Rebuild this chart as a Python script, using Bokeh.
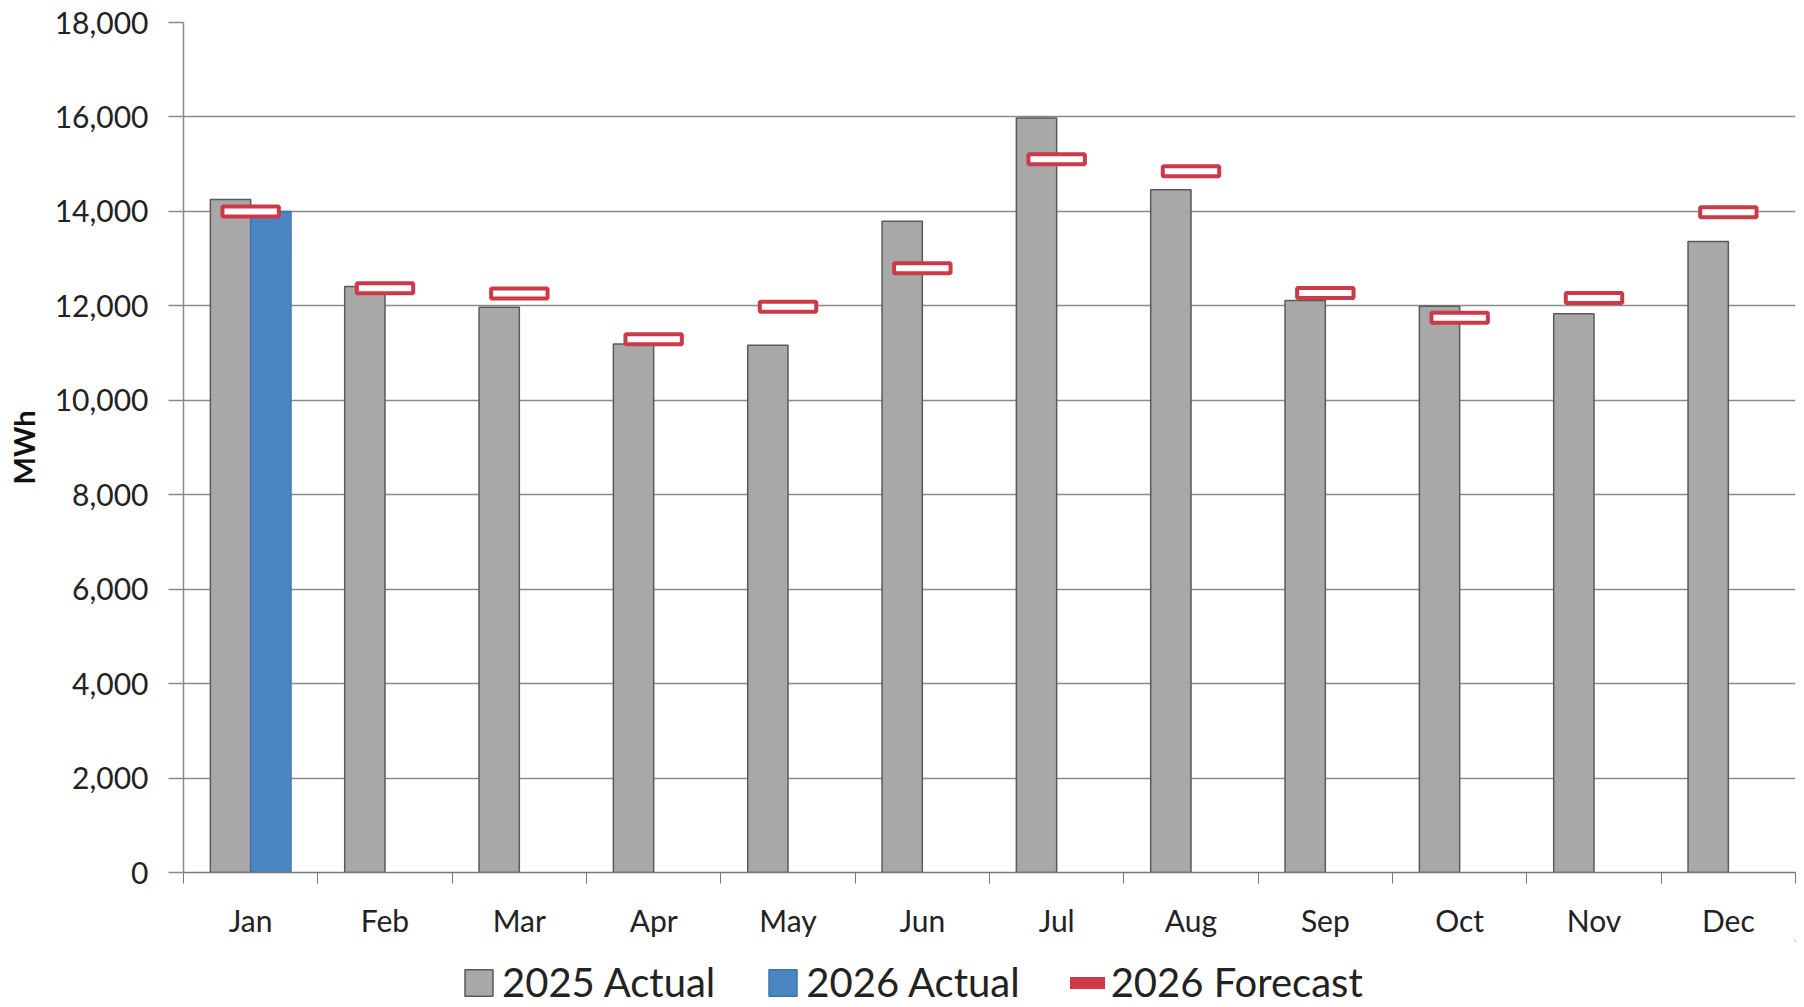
from bokeh.plotting import figure
from bokeh.layouts import column
from bokeh.models import Range1d, FixedTicker, NumeralTickFormatter, Legend, LegendItem, ColumnDataSource
from bokeh.embed import file_html
from bokeh.resources import INLINE

months = ["Jan", "Feb", "Mar", "Apr", "May", "Jun", "Jul", "Aug", "Sep", "Oct", "Nov", "Dec"]
actual_2025 = [14250, 12410, 11970, 11190, 11165, 13790, 15980, 14460, 12115, 11990, 11835, 13365]
actual_2026 = [14000, None, None, None, None, None, None, None, None, None, None, None]
forecast_2026 = [14000, 12370, 12260, 11290, 11980, 12795, 15105, 14850, 12270, 11750, 12165, 13980]
y_ticks = [0, 2000, 4000, 6000, 8000, 10000, 12000, 14000, 16000, 18000]
series_names = ["2025 Actual", "2026 Actual", "2026 Forecast"]

FONT = "Lato"
GRAY = "#a7a8a7"
BLUE = "#4a86c2"
RED = "#cc3a4a"

x_center = [i + 0.5 for i in range(len(months))]

p = figure(width=1804, height=940, output_backend="svg", toolbar_location=None,
           x_range=Range1d(0, 12), y_range=Range1d(0, 18000),
           min_border_left=183, min_border_top=22, min_border_right=9, min_border_bottom=68)
p.outline_line_color = None
p.background_fill_color = "white"

src25 = ColumnDataSource(dict(x=[c - 0.15 for c in x_center], top=actual_2025))
p.vbar(x="x", top="top", width=0.3, source=src25, fill_color=GRAY, line_color="#5a5a5a", line_width=1.5)

xs26 = [c + 0.15 for c, v in zip(x_center, actual_2026) if v is not None]
tops26 = [v for v in actual_2026 if v is not None]
p.vbar(x=xs26, top=tops26, width=0.3, fill_color=BLUE, line_color="#3f73a6", line_width=1.5)

p.rect(x=x_center, y=forecast_2026, width=0.42, height=10, height_units="screen",
       fill_color="white", line_color=RED, line_width=4)

# axes
p.xaxis.ticker = FixedTicker(ticks=x_center, minor_ticks=list(range(13)))
p.xaxis.major_label_overrides = {c: m for c, m in zip(x_center, months)}
p.xaxis.major_tick_out = 0
p.xaxis.major_tick_in = 0
p.xaxis.minor_tick_out = 11
p.xaxis.minor_tick_in = 0
p.xaxis.minor_tick_line_color = "#777777"
p.xaxis.axis_line_color = "#777777"
p.xaxis.axis_line_width = 1.5
p.xaxis.major_label_text_font = FONT
p.xaxis.major_label_text_font_size = "30px"
p.xaxis.major_label_text_color = "#222222"
p.xaxis.major_label_standoff = 18
p.xgrid.grid_line_color = None

p.yaxis.ticker = FixedTicker(ticks=y_ticks, minor_ticks=[])
p.yaxis.formatter = NumeralTickFormatter(format="0,0")
p.yaxis.major_tick_out = 15
p.yaxis.major_tick_in = 0
p.yaxis.major_tick_line_color = "#8a8a8a"
p.yaxis.major_tick_line_width = 1.5
p.yaxis.axis_line_color = "#8a8a8a"
p.yaxis.axis_line_width = 1.5
p.yaxis.major_label_text_font = FONT
p.yaxis.major_label_text_font_size = "30px"
p.yaxis.major_label_text_color = "#222222"
p.yaxis.major_label_standoff = 20
p.yaxis.axis_label = "MWh"
p.yaxis.axis_label_text_font = FONT
p.yaxis.axis_label_text_font_size = "29px"
p.yaxis.axis_label_text_font_style = "bold"
p.yaxis.axis_label_text_color = "#111111"
p.yaxis.axis_label_standoff = 11
p.ygrid.grid_line_color = "#8a8a8a"
p.ygrid.grid_line_width = 1.5

# legend strip (its sample glyphs sit outside the visible range)
lf = figure(width=1804, height=67, output_backend="svg", toolbar_location=None,
            x_axis_type=None, y_axis_type=None,
            x_range=Range1d(0, 1), y_range=Range1d(0, 1),
            min_border_left=0, min_border_right=0, min_border_top=0, min_border_bottom=0)
lf.outline_line_color = None
g1 = lf.vbar(x=[5], top=[5], bottom=[4], width=0.3, fill_color=GRAY, line_color="#5a5a5a", line_width=1.5)
g2 = lf.vbar(x=[5], top=[5], bottom=[4], width=0.3, fill_color=BLUE, line_color="#3f73a6", line_width=1.5)
g3 = lf.line(x=[5, 6], y=[5, 5], line_color=RED, line_width=12, line_cap="round")
legend = Legend(items=[LegendItem(label=series_names[0], renderers=[g1]),
                       LegendItem(label=series_names[1], renderers=[g2]),
                       LegendItem(label=series_names[2], renderers=[g3])],
                orientation="horizontal", location=(278, 1),
                label_text_font=FONT, label_text_font_size="40px", label_text_color="#222222",
                label_text_line_height=1.0,
                glyph_width=35, glyph_height=33, label_standoff=6, spacing=50,
                padding=0, margin=0, border_line_color=None, background_fill_alpha=0)
lf.add_layout(legend, "center")

open("out.html", "w").write(file_html(column(p, lf, spacing=0), INLINE))
